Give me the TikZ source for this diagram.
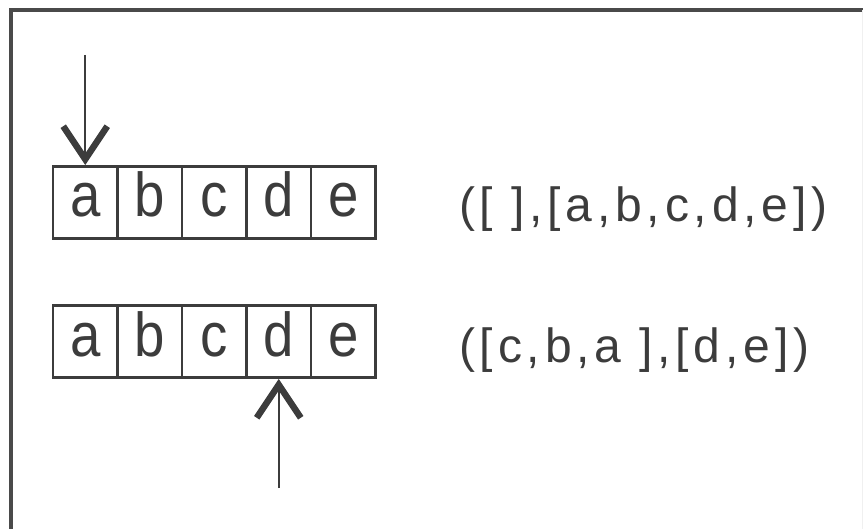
\documentclass[tikz,border=0pt]{standalone}
\usepackage{fontspec}
\setmainfont{Liberation Sans}
\newfontfamily\pairfont[LetterSpace=10]{Liberation Sans}
\newfontfamily\cellfont[FakeStretch=0.88]{Liberation Sans}
\usetikzlibrary{arrows.meta}
\definecolor{ink}{HTML}{3C3C3C}
\definecolor{framegray}{HTML}{4A4A4A}
\begin{document}
\begin{tikzpicture}[x=1bp,y=-1bp,
  cell/.style={draw=ink, line width=2.8bp, minimum width=64.5bp, minimum height=72bp,
    inner sep=0pt, text height=45bp, text depth=16bp, text=ink,
    font=\cellfont\fontsize{62bp}{70bp}\selectfont},
  pair/.style={anchor=base west, inner sep=0pt, text=ink,
    font=\pairfont\fontsize{48bp}{56bp}\selectfont},
  pointer/.style={draw=ink, line width=1.8bp,
    -{Straight Barb[length=33bp, width=44bp, line width=6.5bp]}}]
\useasboundingbox (0,0) rectangle (863,529);
% frame
\draw[framegray, line width=4bp] (11,529) -- (11,10.5) -- (863,10.5);
\draw[black!6, line width=1bp] (862,10.5) -- (862,529);
% first row of cells
\foreach \t [count=\i from 0] in {a,b,c,d,e}
  \node[cell] (r1\t) at ({85.25+64.5*\i},202.5) {\t};
% second row of cells
\foreach \t [count=\i from 0] in {a,b,c,d,e}
  \node[cell] (r2\t) at ({85.25+64.5*\i},341.5) {\t};
% pair descriptions
\node[pair] (p1) at (459,222) {([ ],[a,b,c,d,e])};
\node[pair] (p2) at (459,362) {([c,b,a ],[d,e])};
% pointers
\coordinate (s1) at (85.25,55);
\coordinate (s2) at (278.75,488);
\draw[pointer] (s1) -- (r1a.north);
\draw[pointer] (s2) -- (r2d.south);
\end{tikzpicture}
\end{document}
